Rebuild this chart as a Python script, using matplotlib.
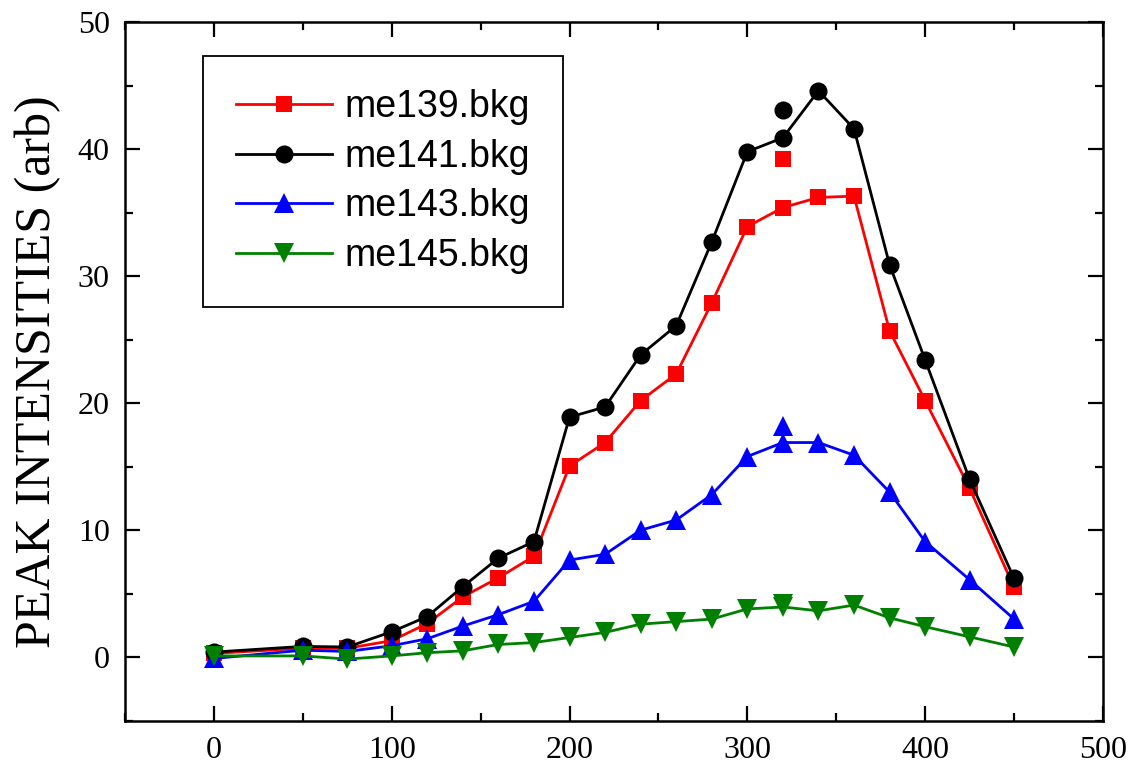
import matplotlib
matplotlib.use('Agg')
import matplotlib.pyplot as plt
from matplotlib.ticker import MultipleLocator

# temperature steps (x) and peak intensities per file
x = [0, 50, 75, 100, 120, 140, 160, 180, 200, 220, 240, 260, 280, 300,
     320, 340, 360, 380, 400, 425, 450]

me139 = [0.3, 0.7, 0.7, 1.3, 2.65, 4.75, 6.25, 7.95, 15.05, 16.9, 20.2, 22.3,
         27.9, 33.9, 35.4, 36.2, 36.3, 25.7, 20.2, 13.3, 5.5]
me141 = [0.4, 0.85, 0.8, 2.0, 3.2, 5.55, 7.8, 9.1, 18.9, 19.7, 23.8, 26.1,
         32.7, 39.8, 40.9, 44.6, 41.6, 30.9, 23.4, 14.0, 6.2]
me143 = [-0.1, 0.55, 0.45, 0.9, 1.45, 2.45, 3.35, 4.4, 7.65, 8.1, 10.0, 10.8,
         12.8, 15.8, 16.9, 16.9, 15.9, 13.0, 9.1, 6.1, 3.0]
me145 = [0.1, 0.1, -0.15, 0.1, 0.35, 0.5, 1.0, 1.15, 1.55, 1.95, 2.6, 2.8,
         3.0, 3.8, 3.95, 3.65, 4.1, 3.1, 2.4, 1.6, 0.8]

# repeated measurement at 320, drawn without a line
x_rep = [320]
me139_rep = [39.2]
me141_rep = [43.1]
me143_rep = [18.2]
me145_rep = [4.2]

labels = ['me139.bkg', 'me141.bkg', 'me143.bkg', 'me145.bkg']
colors = ['#ff0000', '#000000', '#0000ff', '#008000']
markers = ['s', 'o', '^', 'v']
sizes = [12, 13, 14, 14]

plt.rcParams['font.family'] = 'Liberation Serif'

fig = plt.figure(figsize = (11.28, 7.64), dpi = 100)
ax = fig.add_axes([0.1108, 0.0567, 0.8670, 0.9143])

series = [me139, me141, me143, me145]
reps = [me139_rep, me141_rep, me143_rep, me145_rep]
for ys, yr, lab, c, m, s in zip(series, reps, labels, colors, markers, sizes):
    ax.plot(x, ys, color = c, marker = m, markersize = s, linewidth = 2.0,
            markeredgewidth = 0, label = lab)
    ax.plot(x_rep, yr, color = c, marker = m, markersize = s, linestyle = 'none',
            markeredgewidth = 0)

ax.set_xlim(-50, 500)
ax.set_ylim(-5, 50)
ax.xaxis.set_major_locator(MultipleLocator(100))
ax.xaxis.set_minor_locator(MultipleLocator(50))
ax.yaxis.set_major_locator(MultipleLocator(10))
ax.yaxis.set_minor_locator(MultipleLocator(5))

ax.tick_params(which = 'both', direction = 'in', top = True, right = True, width = 1.6)
ax.tick_params(which = 'major', length = 11, labelsize = 23, pad = 11)
ax.tick_params(which = 'minor', length = 6)
for sp in ax.spines.values():
    sp.set_linewidth(1.8)

ax.set_ylabel('PEAK INTENSITIES (arb)', fontsize = 36, labelpad = 12)

leg = ax.legend(loc = 'upper left', bbox_to_anchor = (0.0798, 0.951), borderaxespad = 0,
                prop = {'family': 'Liberation Sans', 'size': 27},
                fancybox = False, edgecolor = 'black', framealpha = 1,
                handlelength = 2.55, handletextpad = 0.35, labelspacing = 0.36,
                borderpad = 0.88)
leg.get_frame().set_linewidth(1.3)

fig.savefig('out.png', dpi = 100)
